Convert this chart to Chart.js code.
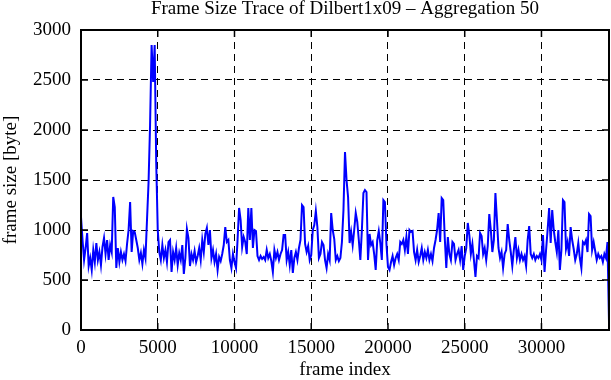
<!DOCTYPE html>
<html>
<head>
<meta charset="utf-8">
<script src="https://cdn.jsdelivr.net/npm/chart.js@4"></script>
<style>
html,body{margin:0;padding:0;background:#fff;}
#wrap{width:611px;height:380px;}
</style>
</head>
<body>
<div id="wrap"><canvas id="c" width="611" height="380"></canvas></div>
<script>
const titleText = "Frame Size Trace of Dilbert1x09 \u2013 Aggregation 50";
const xLabel = "frame index";
const yLabel = "frame size [byte]";
const frameStep = 100;
const xTicks = [0, 5000, 10000, 15000, 20000, 25000, 30000];
const yTicks = [0, 500, 1000, 1500, 2000, 2500, 3000];
const frameSizes = [
1130,900,700,820,970,640,720,600,800,680,
870,700,780,650,830,920,760,900,700,850,
780,1330,1230,620,820,680,780,700,760,690,
860,1000,1280,780,990,980,900,820,700,770,
660,800,720,1100,1470,2050,2850,2480,2850,1680,
1000,780,700,850,720,800,680,880,900,580,
780,700,820,650,770,700,850,560,720,1010,
920,640,760,700,790,680,740,820,700,900,
780,960,1020,850,1000,720,800,680,760,600,
730,690,760,850,1030,880,900,700,620,760,
680,620,900,1220,1100,830,930,880,760,1220,
900,1220,820,1000,990,740,700,740,710,730,
700,800,720,760,690,580,800,720,780,700,
760,800,950,950,700,780,650,800,570,720,
780,700,820,900,1250,1230,860,780,840,700,
750,1000,1050,1190,1030,720,760,880,850,700,
620,760,700,1170,1000,910,700,740,690,720,
880,1200,1780,1500,1330,870,980,850,1000,1170,
1080,900,700,1000,1370,1400,1380,700,960,850,
880,760,600,900,990,870,700,1300,1280,860,
630,600,680,740,650,720,760,700,880,860,
900,800,930,760,1000,980,990,780,700,800,
680,740,820,700,780,720,800,700,760,690,
820,900,1000,1170,880,1320,1300,920,620,930,
760,700,880,860,700,760,800,700,840,600,
740,820,1070,950,760,860,700,530,740,720,
970,940,760,820,700,840,1160,1000,780,900,
1370,1100,820,720,780,620,760,800,1060,900,
780,640,800,930,720,800,700,760,700,740,
640,900,1040,760,720,760,700,740,720,760,
700,950,580,800,1000,1220,870,1200,1000,880,
780,1000,600,800,1300,1280,810,880,740,1030,
900,810,700,760,870,720,620,880,860,900,
780,1160,1140,800,880,790,700,760,720,740,
680,760,720,880,80
];
const xMax = (frameSizes.length - 1) * frameStep;
const points = frameSizes.map((v, i) => ({x: i * frameStep, y: v}));

const FONT = "'Liberation Serif', 'DejaVu Serif', serif";

const framePlugin = {
  id: 'frame',
  afterDatasetsDraw(chart) {
    const {ctx, chartArea: a, scales} = chart;
    ctx.save();
    ctx.strokeStyle = '#000';
    ctx.lineWidth = 1.5;
    const L = 7;
    ctx.beginPath();
    scales.x.ticks.forEach(t => {
      const px = scales.x.getPixelForValue(t.value);
      ctx.moveTo(px, a.bottom); ctx.lineTo(px, a.bottom - L);
      ctx.moveTo(px, a.top); ctx.lineTo(px, a.top + L);
    });
    scales.y.ticks.forEach(t => {
      const py = scales.y.getPixelForValue(t.value);
      ctx.moveTo(a.left, py); ctx.lineTo(a.left + L, py);
      ctx.moveTo(a.right, py); ctx.lineTo(a.right - L, py);
    });
    ctx.stroke();
    ctx.lineWidth = 2;
    ctx.strokeRect(a.left, a.top, a.right - a.left, a.bottom - a.top);
    ctx.restore();
  }
};

new Chart(document.getElementById('c'), {
  type: 'line',
  data: {
    datasets: [{
      data: points,
      borderColor: '#0000ff',
      borderWidth: 2,
      pointRadius: 0,
      tension: 0,
      fill: false
    }]
  },
  options: {
    responsive: false,
    animation: false,
    events: [],
    layout: {padding: {left: 0, right: 2, top: 0, bottom: 0}},
    plugins: {
      legend: {display: false},
      tooltip: {enabled: false},
      title: {
        display: true,
        fullSize: false,
        text: titleText,
        color: '#000',
        font: {family: FONT, size: 19, weight: 'normal', lineHeight: 0.9},
        padding: {top: 0, bottom: 12.9}
      }
    },
    scales: {
      x: {
        type: 'linear',
        min: 0,
        max: xMax,
        afterBuildTicks: s => { s.ticks = xTicks.map(v => ({value: v})); },
        afterFit: s => { s.height = 50; },
        ticks: {
          color: '#000',
          font: {family: FONT, size: 19},
          padding: 7,
          maxRotation: 0,
          autoSkip: false,
          callback: v => String(v)
        },
        grid: {color: '#000', lineWidth: 1, drawTicks: false},
        border: {display: false, dash: [7, 5]},
        title: {
          display: true,
          text: xLabel,
          color: '#000',
          font: {family: FONT, size: 19, lineHeight: 1.0},
          padding: {top: 0, bottom: 0}
        }
      },
      y: {
        type: 'linear',
        min: 0,
        max: 3000,
        afterBuildTicks: s => { s.ticks = yTicks.map(v => ({value: v})); },
        afterFit: s => { s.width = 81; },
        ticks: {
          color: '#000',
          font: {family: FONT, size: 19},
          padding: 10,
          autoSkip: false,
          callback: v => String(v)
        },
        grid: {color: '#000', lineWidth: 1, drawTicks: false},
        border: {display: false, dash: [7, 5]},
        title: {
          display: true,
          text: yLabel,
          color: '#000',
          font: {family: FONT, size: 19, lineHeight: 1.0},
          padding: {top: 1.5, bottom: 0}
        }
      }
    }
  },
  plugins: [framePlugin]
});
</script>
</body>
</html>
